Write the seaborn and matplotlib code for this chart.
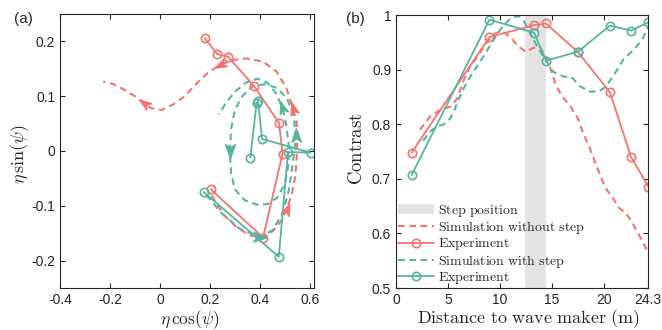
import numpy as np
import pandas as pd
import matplotlib
matplotlib.use("Agg")
import matplotlib.pyplot as plt
import seaborn as sns
from matplotlib.path import Path
from matplotlib.patches import Patch
from matplotlib.lines import Line2D

# ---------------- data: panel (a) phase-plane trajectories ----------------
exp_flat_x = [0.204, 0.413, 0.491, 0.477, 0.376, 0.273, 0.229, 0.180]
exp_flat_y = [-0.070, -0.158, -0.005, 0.051, 0.119, 0.172, 0.177, 0.206]
exp_step_x = [0.176, 0.476, 0.513, 0.603, 0.409, 0.393, 0.387, 0.362]
exp_step_y = [-0.075, -0.193, -0.002, -0.003, 0.022, 0.092, 0.087, -0.012]

sim_flat_x = [0.207, 0.253, 0.307, 0.360, 0.413, 0.453, 0.487, 0.507, 0.527, 0.540,
              0.547, 0.549, 0.553, 0.547, 0.533, 0.507, 0.467, 0.413, 0.347, 0.293,
              0.240, 0.190, 0.140, 0.100, 0.053, 0.007, -0.035, -0.065, -0.100,
              -0.147, -0.187, -0.227]
sim_flat_y = [-0.081, -0.115, -0.139, -0.154, -0.158, -0.146, -0.127, -0.106, -0.081,
              -0.051, -0.020, 0.010, 0.023, 0.053, 0.078, 0.114, 0.145, 0.163, 0.169,
              0.166, 0.157, 0.142, 0.120, 0.100, 0.085, 0.075, 0.078, 0.088, 0.100,
              0.113, 0.122, 0.127]

sim_step_x = [0.185, 0.250, 0.320, 0.400, 0.450, 0.490, 0.515, 0.530, 0.540, 0.544,
              0.535, 0.510, 0.470, 0.420, 0.370, 0.330, 0.300, 0.285, 0.280, 0.285,
              0.300, 0.340, 0.390, 0.430, 0.470, 0.500, 0.515, 0.515, 0.505, 0.490,
              0.465, 0.430, 0.390, 0.345, 0.300, 0.265, 0.236]
sim_step_y = [-0.080, -0.115, -0.142, -0.157, -0.145, -0.115, -0.075, -0.030, 0.005,
              0.030, 0.065, 0.095, 0.115, 0.122, 0.118, 0.100, 0.075, 0.040, 0.000,
              -0.040, -0.070, -0.090, -0.098, -0.097, -0.085, -0.060, -0.025, 0.015,
              0.050, 0.080, 0.105, 0.125, 0.132, 0.125, 0.108, 0.088, 0.067]

# direction arrows along the simulated trajectories (indices into the curves)
arrows_flat = [7, 14, 20, 27]
arrows_step = [3, 9, 18, 29]

# ---------------- data: panel (b) contrast along the flume ----------------
dist_exp = [1.5, 9.0, 13.3, 14.45, 17.5, 20.6, 22.65, 24.3]
contrast_exp_flat = [0.748, 0.960, 0.982, 0.985, 0.933, 0.859, 0.740, 0.686]
contrast_exp_step = [0.707, 0.992, 0.968, 0.917, 0.933, 0.981, 0.972, 0.987]

dist_sim_flat = [2.3, 3.3, 4.3, 5.3, 5.9, 6.5, 7.1, 7.9, 8.6, 9.4, 10.0, 10.5, 11.1,
                 11.8, 12.5, 13.2, 13.8, 14.3, 14.8, 15.4, 16.0, 16.8, 17.5, 18.0,
                 18.6, 19.2, 19.9, 20.3, 21.0, 21.4, 22.1, 22.7, 23.3, 24.0, 24.3]
contrast_sim_flat = [0.790, 0.815, 0.827, 0.833, 0.848, 0.880, 0.905, 0.926, 0.947,
                     0.965, 0.970, 0.968, 0.958, 0.943, 0.933, 0.940, 0.943, 0.928,
                     0.906, 0.872, 0.851, 0.833, 0.812, 0.785, 0.760, 0.729, 0.696,
                     0.680, 0.662, 0.648, 0.638, 0.622, 0.601, 0.576, 0.564]

dist_sim_step = [2.6, 3.3, 3.9, 4.6, 5.2, 5.6, 5.9, 6.4, 7.1, 7.8, 8.6, 9.3, 10.2, 11.0,
                 11.8, 12.3, 12.9, 13.6, 14.2, 15.1, 16.1, 17.0, 17.7, 18.7, 19.5,
                 20.2, 20.9, 21.9, 22.9, 23.7, 24.3]
contrast_sim_step = [0.770, 0.787, 0.796, 0.800, 0.810, 0.825, 0.840, 0.862, 0.886,
                     0.906, 0.930, 0.952, 0.978, 0.994, 0.999, 0.990, 0.968, 0.943,
                     0.924, 0.897, 0.888, 0.885, 0.870, 0.860, 0.860, 0.869, 0.888,
                     0.919, 0.937, 0.955, 0.980]

step_start, step_end = 12.44, 14.43

x_ticks_b = [0, 5, 10, 15, 20, 24.3]
x_ticklabels_b = ["0", "5", "10", "15", "20", "24.3"]
y_ticks_b = [0.5, 0.6, 0.7, 0.8, 0.9, 1.0]
y_ticklabels_b = ["0.5", "0.6", "0.7", "0.8", "0.9", "1"]
x_ticks_a = [-0.4, -0.2, 0, 0.2, 0.4, 0.6]
x_ticklabels_a = ["-0.4", "-0.2", "0", "0.2", "0.4", "0.6"]
y_ticks_a = [-0.2, -0.1, 0, 0.1, 0.2]
y_ticklabels_a = ["-0.2", "-0.1", "0", "0.1", "0.2"]

# ---------------- style ----------------
RED = "#F5736F"
TEAL = "#58B3A0"
BAND = "#E3E3E3"
DASH = (3.2, 2.2)

sns.set_theme(style="white")
plt.rcParams.update({
    "font.family": ["Liberation Sans", "DejaVu Sans"],
    "mathtext.fontset": "cm",
    "axes.unicode_minus": False,
    "axes.edgecolor": "#262626",
    "axes.linewidth": 0.8,
    "xtick.color": "#262626",
    "ytick.color": "#262626",
    "xtick.labelsize": 10,
    "ytick.labelsize": 10,
})

fig = plt.figure(figsize=(6.62, 3.30), dpi=100)
ax_a = fig.add_axes([60 / 662, 42 / 330, 254 / 662, 274 / 330])
ax_b = fig.add_axes([396 / 662, 42 / 330, 252.3 / 662, 272.7 / 330])

for ax in (ax_a, ax_b):
    ax.tick_params(direction="in", length=3.5, width=0.8, top=True, right=True,
                   bottom=True, left=True, pad=3.5)
    for s in ax.spines.values():
        s.set_visible(True)

# ---------------- panel (a) ----------------
ax_a.set_xlim(-0.4, 0.617)
ax_a.set_ylim(-0.25, 0.25)

df_sim_flat = pd.DataFrame({"x": sim_flat_x, "y": sim_flat_y})
df_sim_step = pd.DataFrame({"x": sim_step_x, "y": sim_step_y})
df_exp_flat = pd.DataFrame({"x": exp_flat_x, "y": exp_flat_y})
df_exp_step = pd.DataFrame({"x": exp_step_x, "y": exp_step_y})

sns.lineplot(data=df_sim_flat, x="x", y="y", sort=False, estimator=None, ax=ax_a,
             color=RED, lw=1.5, dashes=False, linestyle=(0, DASH))
sns.lineplot(data=df_sim_step, x="x", y="y", sort=False, estimator=None, ax=ax_a,
             color=TEAL, lw=1.5, dashes=False, linestyle=(0, DASH))
sns.lineplot(data=df_exp_flat, x="x", y="y", sort=False, estimator=None, ax=ax_a,
             color=RED, lw=1.3, marker="o", ms=6, mfc="none", mec=RED, mew=1.2)
sns.lineplot(data=df_exp_step, x="x", y="y", sort=False, estimator=None, ax=ax_a,
             color=TEAL, lw=1.3, marker="o", ms=6, mfc="none", mec=TEAL, mew=1.2)


def arrow_marker(theta):
    base = np.array([[1.0, 0.0], [-1.0, 0.7], [-0.45, 0.0], [-1.0, -0.7], [1.0, 0.0]])
    c, s = np.cos(theta), np.sin(theta)
    rot = base @ np.array([[c, s], [-s, c]])
    return Path(rot, [Path.MOVETO, Path.LINETO, Path.LINETO, Path.LINETO, Path.CLOSEPOLY])


def draw_arrows(ax, xs, ys, idxs, color):
    pts = ax.transData.transform(np.column_stack([xs, ys]))
    for i in idxs:
        d = pts[min(i + 1, len(xs) - 1)] - pts[max(i - 1, 0)]
        theta = np.arctan2(d[1], d[0])
        ax.plot([xs[i]], [ys[i]], marker=arrow_marker(theta), ms=10, color=color,
                mec=color, mfc=color, linestyle="none", zorder=4)


draw_arrows(ax_a, sim_flat_x, sim_flat_y, arrows_flat, RED)
draw_arrows(ax_a, sim_step_x, sim_step_y, arrows_step, TEAL)

ax_a.set_xticks(x_ticks_a)
ax_a.set_xticklabels(x_ticklabels_a)
ax_a.set_yticks(y_ticks_a)
ax_a.set_yticklabels(y_ticklabels_a)
ax_a.set_xlabel(r"$\eta\,\cos(\psi)$", fontsize=12.5, va="center")
ax_a.set_ylabel(r"$\eta\,\sin(\psi)$", fontsize=13, va="center")
ax_a.xaxis.set_label_coords(0.51, -0.115)
ax_a.yaxis.set_label_coords(-0.157, 0.49)

# ---------------- panel (b) ----------------
ax_b.set_xlim(0, 24.3)
ax_b.set_ylim(0.5, 1.0)
ax_b.axvspan(step_start, step_end, color=BAND, lw=0, zorder=0)

df_b_sim_flat = pd.DataFrame({"d": dist_sim_flat, "c": contrast_sim_flat})
df_b_sim_step = pd.DataFrame({"d": dist_sim_step, "c": contrast_sim_step})
df_b_exp_flat = pd.DataFrame({"d": dist_exp, "c": contrast_exp_flat})
df_b_exp_step = pd.DataFrame({"d": dist_exp, "c": contrast_exp_step})

sns.lineplot(data=df_b_sim_flat, x="d", y="c", ax=ax_b, color=RED, lw=1.5,
             linestyle=(0, DASH), estimator=None)
sns.lineplot(data=df_b_exp_flat, x="d", y="c", ax=ax_b, color=RED, lw=1.3,
             marker="o", ms=6, mfc="none", mec=RED, mew=1.2, estimator=None)
sns.lineplot(data=df_b_sim_step, x="d", y="c", ax=ax_b, color=TEAL, lw=1.5,
             linestyle=(0, DASH), estimator=None)
sns.lineplot(data=df_b_exp_step, x="d", y="c", ax=ax_b, color=TEAL, lw=1.3,
             marker="o", ms=6, mfc="none", mec=TEAL, mew=1.2, estimator=None)

ax_b.set_xticks(x_ticks_b)
ax_b.set_xticklabels(x_ticklabels_b)
ax_b.set_yticks(y_ticks_b)
ax_b.set_yticklabels(y_ticklabels_b)
ax_b.set_xlabel(r"$\mathrm{Distance\ to\ wave\ maker\ (m)}$", fontsize=13, va="center")
ax_b.set_ylabel(r"$\mathrm{Contrast}$", fontsize=13.5, va="center")
ax_b.xaxis.set_label_coords(0.525, -0.112)
ax_b.yaxis.set_label_coords(-0.155, 0.51)

handles = [
    Patch(facecolor=BAND, edgecolor="none"),
    Line2D([], [], color=RED, lw=1.5, linestyle=(0, DASH)),
    Line2D([], [], color=RED, lw=1.3, marker="o", ms=6, mfc="none", mec=RED, mew=1.2),
    Line2D([], [], color=TEAL, lw=1.5, linestyle=(0, DASH)),
    Line2D([], [], color=TEAL, lw=1.3, marker="o", ms=6, mfc="none", mec=TEAL, mew=1.2),
]
labels = [
    r"$\mathrm{Step\ position}$",
    r"$\mathrm{Simulation\ without\ step}$",
    r"$\mathrm{Experiment}$",
    r"$\mathrm{Simulation\ with\ step}$",
    r"$\mathrm{Experiment}$",
]
ax_b.legend(handles, labels, loc="lower left", bbox_to_anchor=(0.0, 0.0),
            frameon=False, fontsize=10, handlelength=2.6, handletextpad=0.25,
            labelspacing=0.02, borderaxespad=0.0, borderpad=0.15)

fig.text(23 / 662, 1 - 19 / 330, "(a)", fontsize=11, ha="center", va="center")
fig.text(355 / 662, 1 - 19 / 330, "(b)", fontsize=11, ha="center", va="center")

fig.savefig("out.png", dpi=100)
